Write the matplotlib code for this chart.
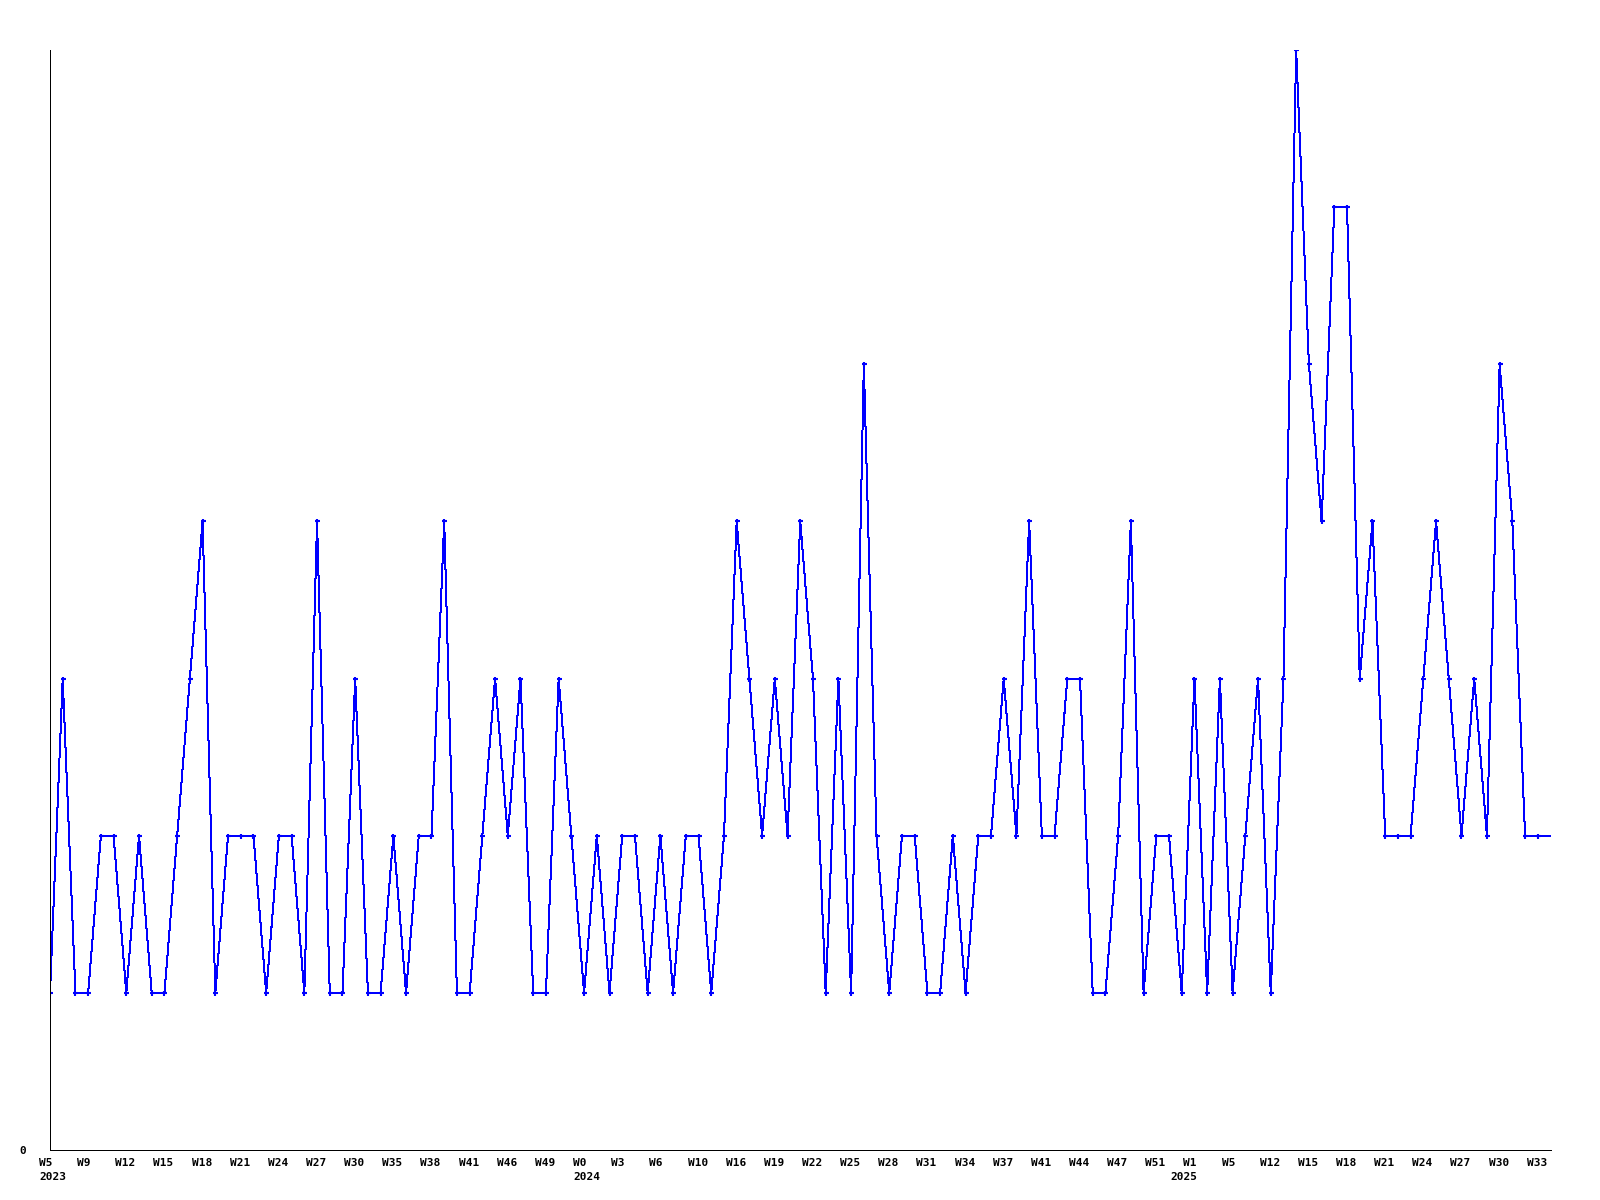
import matplotlib
matplotlib.use("Agg")
import matplotlib.pyplot as plt

# weekly counts, one point per week that has data (categorical x)
VALUES = [1, 3, 1, 1, 2, 2, 1, 2, 1, 1, 2, 3, 4, 1, 2, 2, 2, 1, 2, 2,
          1, 4, 1, 1, 3, 1, 1, 2, 1, 2, 2, 4, 1, 1, 2, 3, 2, 3, 1, 1,
          3, 2, 1, 2, 1, 2, 2, 1, 2, 1, 2, 2, 1, 2, 4, 3, 2, 3, 2, 4,
          3, 1, 3, 1, 5, 2, 1, 2, 2, 1, 1, 2, 1, 2, 2, 3, 2, 4, 2, 2,
          3, 3, 1, 1, 2, 4, 1, 2, 2, 1, 3, 1, 3, 1, 2, 3, 1, 3, 7, 5,
          4, 6, 6, 3, 4, 2, 2, 2, 3, 4, 3, 2, 3, 2, 5, 4, 2, 2, 2]
# every third point is labelled
WEEK_LABELS = ["W5", "W9", "W12", "W15", "W18", "W21", "W24", "W27", "W30", "W35",
               "W38", "W41", "W46", "W49", "W0", "W3", "W6", "W10", "W16", "W19",
               "W22", "W25", "W28", "W31", "W34", "W37", "W41", "W44", "W47", "W51",
               "W1", "W5", "W12", "W15", "W18", "W21", "W24", "W27", "W30", "W33"]
YEARS = ["2023", "2024", "2025"]
YEAR_START = [0, 42, 89]   # index of first point of each year

FONT = dict(family="DejaVu Sans Mono", fontweight="bold", fontsize=8)
PX = 0.72  # points per pixel at dpi 100

fig = plt.figure(figsize=(16, 12), dpi=100)
ax = fig.add_axes([50 / 1600, 50 / 1200, 1500.5 / 1600, 1100 / 1200])

x = list(range(len(VALUES)))
ax.plot(x, VALUES, color="#0000ff", lw=PX, antialiased=False,
        marker="+", ms=3.6, mew=1.5, markevery=slice(0, len(VALUES) - 1))

ax.set_xlim(0, len(VALUES) - 1)
ax.set_ylim(0, 7)
ax.set_xticks([])
ax.set_yticks([0])
ax.set_yticklabels(["0"], **FONT)
ax.tick_params(axis="y", length=0, pad=17.5)

for s in ("top", "right"):
    ax.spines[s].set_visible(False)
for s in ("left", "bottom"):
    ax.spines[s].set_linewidth(PX)
    ax.spines[s].set_antialiased(False)

# labels are left-anchored ~11 px before their point
for lab, pos in zip(WEEK_LABELS, x[::3]):
    ax.annotate(lab, (pos, 0), xycoords=ax.get_xaxis_transform(),
                xytext=(-11 * PX, -8.5 * PX), textcoords="offset points",
                ha="left", va="top", **FONT)
for yr, pos in zip(YEARS, YEAR_START):
    ax.annotate(yr, (pos, 0), xycoords=ax.get_xaxis_transform(),
                xytext=(-11 * PX, -21.5 * PX), textcoords="offset points",
                ha="left", va="top", **FONT)

fig.savefig("out.png", dpi=100)
